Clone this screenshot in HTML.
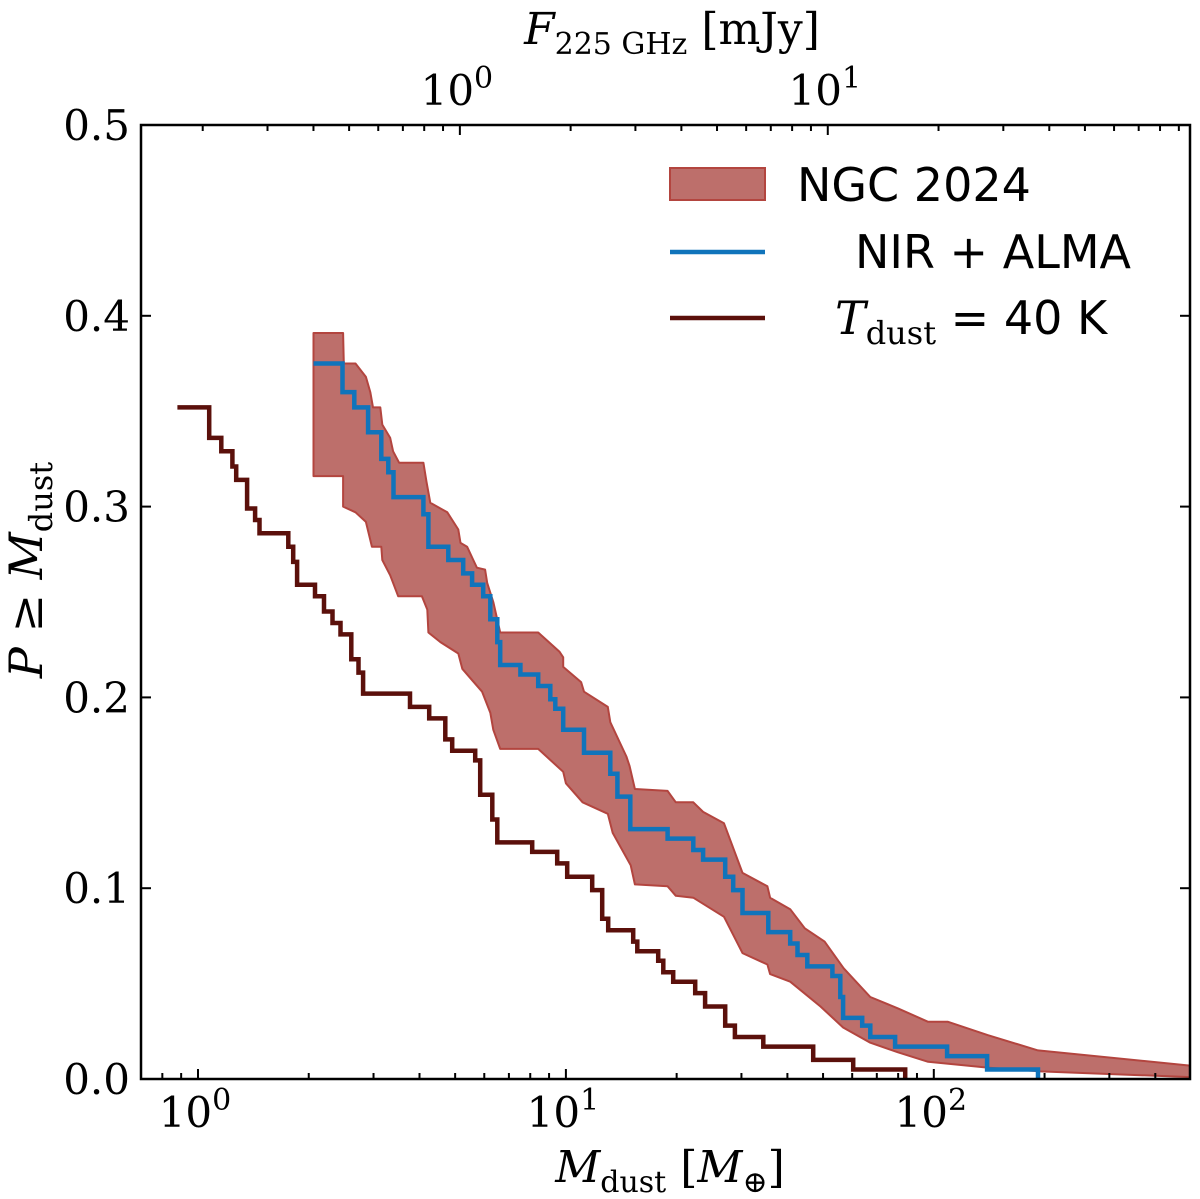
<!DOCTYPE html>
<html><head><meta charset="utf-8">
<style>
html,body{margin:0;padding:0;background:#fff;}
svg{display:block;font-family:"DejaVu Serif","Liberation Serif",serif;}
</style></head>
<body>
<svg id="chart" width="1200" height="1199" viewBox="0 0 1200 1199" xmlns="http://www.w3.org/2000/svg">
<g id="plot"></g>
</svg>
<script>
// ---- data ----
const darkM = [0.879,1.073,1.157,1.24,1.27,1.36,1.43,1.47,1.76,1.815,1.86,2.08,2.20,2.32,2.44,2.61,2.73,2.81,3.77,4.25,4.70,4.91,5.67,5.85,6.31,6.51,8.10,9.47,10.08,11.79,12.55,13.03,15.24,15.63,17.82,18.4,19.57,22.46,23.9,27.1,28.8,34.4,47.0,60.4];
const darkP = [0.352,0.336,0.329,0.321,0.314,0.299,0.293,0.286,0.279,0.271,0.259,0.253,0.245,0.239,0.233,0.220,0.213,0.202,0.195,0.189,0.178,0.172,0.167,0.149,0.136,0.124,0.119,0.113,0.106,0.099,0.084,0.078,0.072,0.067,0.062,0.056,0.051,0.045,0.038,0.028,0.022,0.017,0.010,0.005];
const darkEnd = 83.6;
const blueM = [2.06,2.47,2.66,2.90,3.15,3.29,3.40,4.10,4.23,4.79,5.26,5.56,5.96,6.23,6.51,6.63,7.52,8.41,9.07,9.36,9.83,11.2,13.2,13.8,14.96,18.9,22.2,23.6,27.1,28.5,30.2,35.5,40.7,42.6,45.3,53.0,55.7,56.7,63.9,67.2,78.5,108.7,139.6];
const blueP = [0.375,0.360,0.352,0.339,0.325,0.318,0.305,0.296,0.279,0.272,0.265,0.259,0.253,0.241,0.229,0.217,0.212,0.206,0.199,0.194,0.183,0.171,0.160,0.148,0.131,0.126,0.120,0.115,0.106,0.099,0.087,0.077,0.071,0.065,0.059,0.054,0.043,0.032,0.028,0.022,0.017,0.012,0.005];
const blueEnd = 192;
const upM = [2.06,2.48,2.49,2.68,2.86,2.94,2.99,3.13,3.17,3.33,3.39,3.52,4.10,4.18,4.28,4.76,5.10,5.17,5.39,5.60,5.73,6.03,6.11,6.35,6.63,8.41,9.60,9.83,9.83,11.0,11.2,13.0,13.2,14.6,14.9,15.4,18.9,19.9,22.2,23.6,26.9,30.2,35.3,35.9,40.7,44.6,50.5,56.9,67.2,79.9,96.5,109.3,140,192,497];
const upP = [0.391,0.391,0.375,0.375,0.368,0.360,0.352,0.352,0.343,0.336,0.329,0.323,0.323,0.313,0.302,0.297,0.288,0.281,0.279,0.272,0.268,0.267,0.260,0.250,0.234,0.234,0.224,0.221,0.216,0.208,0.203,0.195,0.187,0.169,0.164,0.152,0.151,0.145,0.145,0.140,0.134,0.108,0.101,0.095,0.089,0.079,0.072,0.058,0.043,0.037,0.030,0.030,0.023,0.015,0.007];
const loM = [2.06,2.48,2.48,2.68,2.86,2.97,3.15,3.17,3.33,3.50,4.06,4.20,4.23,4.56,5.10,5.23,5.56,5.92,6.23,6.35,6.63,8.41,9.83,10.0,11.1,13.0,13.4,15.0,15.4,18.9,19.9,22.2,26.9,30.2,35.3,35.9,40.7,49.2,56.7,67.2,79.9,96.5,140,195,497];
const loP = [0.316,0.316,0.300,0.297,0.292,0.279,0.279,0.272,0.264,0.253,0.253,0.246,0.234,0.229,0.223,0.215,0.209,0.203,0.192,0.183,0.173,0.173,0.161,0.155,0.145,0.139,0.129,0.112,0.102,0.101,0.096,0.095,0.085,0.066,0.060,0.055,0.051,0.038,0.027,0.019,0.014,0.009,0.006,0.004,0.001];
const yTicks = [0.0,0.1,0.2,0.3,0.4,0.5];
const yTickLabels = ["0.0","0.1","0.2","0.3","0.4","0.5"];
const xDecades = [0,1,2];
const topDecades = [0,1];
const fluxPerMass = 1/5.15;

// ---- axes ----
const L=141,R=1190,T=125,B=1079;
const xMin=0.70,xMax=497,yMin=0,yMax=0.5;
const lx0=Math.log10(xMin),lx1=Math.log10(xMax);
function X(m){return L+(Math.log10(m)-lx0)/(lx1-lx0)*(R-L);}
function Y(p){return B-(p-yMin)/(yMax-yMin)*(B-T);}
function XF(f){return X(f/fluxPerMass);}

const NS="http://www.w3.org/2000/svg";
const svg=document.getElementById('chart');
const g=document.getElementById('plot');
function mk(tag,attrs,parent){const e=document.createElementNS(NS,tag);for(const k in attrs)e.setAttribute(k,attrs[k]);(parent||g).appendChild(e);return e;}

// band
let d="M"+upM.map((m,i)=>X(m).toFixed(1)+","+Y(upP[i]).toFixed(1)).join(" L");
for(let i=loM.length-1;i>=0;i--) d+=" L"+X(loM[i]).toFixed(1)+","+Y(loP[i]).toFixed(1);
d+=" Z";
const band=mk('path',{d:d,fill:'#bd6f6b','fill-opacity':'1',stroke:'#b3453f','stroke-width':'2','stroke-linejoin':'round'});



function stepPath(ms,ps,end){
  let s="M"+X(ms[0]).toFixed(1)+","+Y(ps[0]).toFixed(1);
  for(let i=0;i<ms.length;i++){
    const xe=i+1<ms.length?X(ms[i+1]):X(end);
    s+=" H"+xe.toFixed(1);
    if(i+1<ms.length) s+=" V"+Y(ps[i+1]).toFixed(1);
  }
  return s;
}
const dark=mk('path',{d:stepPath(darkM,darkP,darkEnd)+" V"+Y(0).toFixed(1),fill:'none',stroke:'#5b100b','stroke-width':'4.5'});


const blue=mk('path',{d:stepPath(blueM,blueP,blueEnd)+" V"+Y(0).toFixed(1),fill:'none',stroke:'#1074bb','stroke-width':'4.5'});



// frame
const frame=mk('rect',{x:L,y:T,width:R-L,height:B-T,fill:'none',stroke:'#000','stroke-width':'2.5'});



// y ticks
yTicks.forEach((v,i)=>{
  const y=Y(v);
  const t=mk('line',{x1:L,x2:L+10,y1:y,y2:y,stroke:'#000','stroke-width':'2'});
  
  
  const t2=mk('line',{x1:R,x2:R-10,y1:y,y2:y,stroke:'#000','stroke-width':'2'});
  
  
  const lb=mk('text',{x:L-11,y:y+15,'text-anchor':'end','font-size':'42'});
  lb.textContent=yTickLabels[i];
  
  
});

// bottom x ticks
for(let dec=-1;dec<=2;dec++){
  for(let k=1;k<10;k++){
    const m=k*Math.pow(10,dec);
    if(m<xMin||m>xMax) continue;
    const x=X(m), major=k===1;
    const t=mk('line',{x1:x,x2:x,y1:B,y2:B-(major?10:6),stroke:'#000','stroke-width':'2'});
    
    
  }
}
xDecades.forEach(e=>{
  const x=X(Math.pow(10,e));
  const lb=mk('text',{x:x-3,y:B+48,'text-anchor':'middle','font-size':'42'});
  lb.innerHTML='10<tspan dy="-17" font-size="30">'+e+'</tspan>';
  
  
});
// top x ticks (flux)
for(let dec=-1;dec<=2;dec++){
  for(let k=1;k<10;k++){
    const f=k*Math.pow(10,dec);
    const x=XF(f);
    if(x<L||x>R) continue;
    const major=k===1;
    const t=mk('line',{x1:x,x2:x,y1:T,y2:T+(major?10:6),stroke:'#000','stroke-width':'2'});
    
    
  }
}
topDecades.forEach(e=>{
  const x=XF(Math.pow(10,e));
  const lb=mk('text',{x:x-3,y:T-20,'text-anchor':'middle','font-size':'42'});
  lb.innerHTML='10<tspan dy="-17" font-size="30">'+e+'</tspan>';
  
  
});
</script>
<svg style="position:absolute;left:0;top:0" width="1200" height="1199">
  <text x="672" y="44" text-anchor="middle" font-family="DejaVu Serif, serif" font-size="44"><tspan font-style="italic">F</tspan><tspan font-size="30" dy="10">225 GHz</tspan><tspan dy="-10"> [mJy]</tspan></text>
  <text x="670" y="1182" text-anchor="middle" font-family="DejaVu Serif, serif" font-size="44"><tspan font-style="italic">M</tspan><tspan font-size="30" dy="10">dust</tspan><tspan dy="-10"> [</tspan><tspan font-style="italic">M</tspan><tspan font-size="30" dy="10">⊕</tspan><tspan dy="-10">]</tspan></text>
  <text transform="translate(42,570) rotate(-90)" text-anchor="middle" font-family="DejaVu Serif, serif" font-size="46"><tspan font-style="italic">P</tspan> ≥ <tspan font-style="italic">M</tspan><tspan font-size="32" dy="10">dust</tspan></text>
  <g font-family="DejaVu Sans, sans-serif" font-size="46">
    <rect x="670" y="168" width="95" height="32" fill="#bd6f6b" stroke="#b3453f" stroke-width="2"/>
    <text x="797" y="201">NGC 2024</text>
    <line x1="670" x2="765" y1="252" y2="252" stroke="#1074bb" stroke-width="4.5"/>
    <text x="855" y="268">NIR + ALMA</text>
    <line x1="670" x2="765" y1="318" y2="318" stroke="#5b100b" stroke-width="4.5"/>
    <text x="835" y="334"><tspan font-family="DejaVu Serif, serif" font-style="italic">T</tspan><tspan font-family="DejaVu Serif, serif" font-size="32" dy="10">dust</tspan><tspan dy="-10"> = 40 K</tspan></text>
  </g>
</svg>
</body></html>
